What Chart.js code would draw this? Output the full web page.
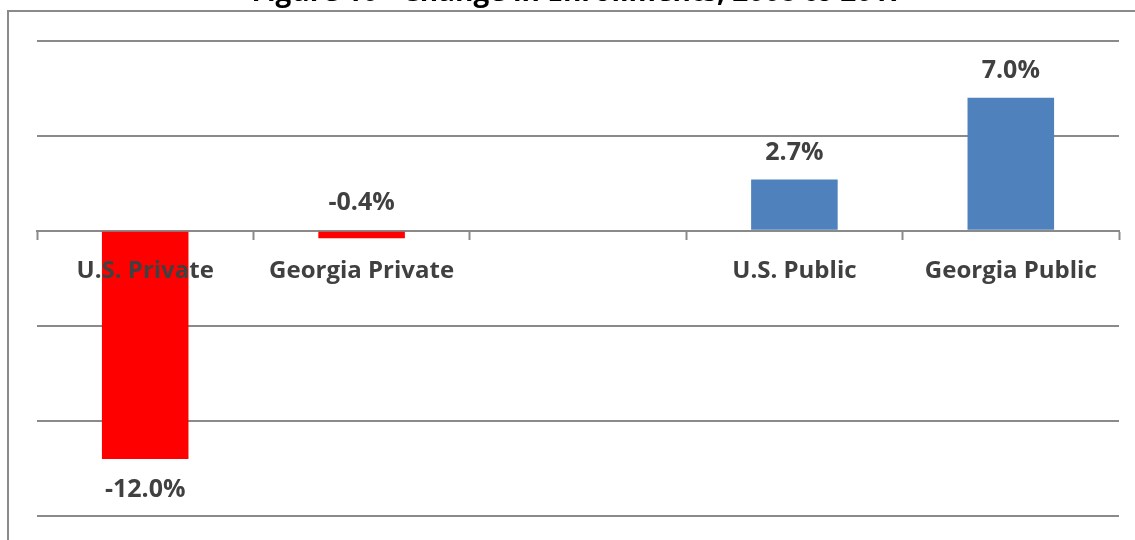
<!DOCTYPE html>
<html>
<head>
<meta charset="utf-8">
<script src="https://cdn.jsdelivr.net/npm/chart.js@4/dist/chart.umd.min.js"></script>
<style>
  html, body { margin: 0; padding: 0; background: #fff; overflow: hidden; }
  body { width: 1135px; height: 540px; position: relative; }
  .frame { position: absolute; left: 7px; top: 10px; width: 1200px; height: 600px;
           border-left: 2px solid #8a8a8a; border-top: 2px solid #8a8a8a; }
  .chart-wrap { position: absolute; left: 0; top: -30px; width: 1135px; height: 570px; }
</style>
</head>
<body>
<div class="frame"></div>
<div class="chart-wrap"><canvas id="enrollChart"></canvas></div>
<script>
// Figure 10 data
const categories = ['U.S. Private', 'Georgia Private', '', 'U.S. Public', 'Georgia Public'];
const changePct = [-12.0, -0.4, null, 2.7, 7.0];
const barColors = ['#FF0000', '#FF0000', '#FF0000', '#4F81BD', '#4F81BD'];
const yTicks = { min: -15, max: 10, step: 5 };

const GRID = '#8a8a8a';
const TEXT = '#404040';
const FONT = '"Open Sans", Lato, sans-serif';

// value labels: outside end, but short negative bars get the label above zero
const valueLabels = {
  id: 'valueLabels',
  afterDatasetsDraw(chart) {
    const ctx = chart.ctx;
    const meta = chart.getDatasetMeta(0);
    const y = chart.scales.y;
    ctx.save();
    ctx.font = 'bold 25px ' + FONT;
    ctx.fillStyle = TEXT;
    ctx.textAlign = 'center';
    ctx.textBaseline = 'middle';
    meta.data.forEach((bar, i) => {
      const v = changePct[i];
      if (v === null || v === undefined) return;
      const zero = y.getPixelForValue(0);
      const len = Math.abs(bar.y - zero);
      let ty;
      if (v >= 0) ty = bar.y - 27;
      else if (len < 30) ty = zero - 28;
      else ty = bar.y + 31;
      ctx.fillText(v.toFixed(1) + '%', bar.x, ty);
    });
    ctx.restore();
  }
};

const ctx = document.getElementById('enrollChart').getContext('2d');
new Chart(ctx, {
  type: 'bar',
  data: {
    labels: categories,
    datasets: [{
      data: changePct,
      backgroundColor: barColors,
      borderWidth: 0,
      categoryPercentage: 1,
      barPercentage: 0.4
    }]
  },
  options: {
    responsive: true, maintainAspectRatio: false,
    animation: false,
    layout: { padding: { left: 37, right: 16, top: 0, bottom: 24 } },
    scales: {
      x: {
        position: { y: 0 },
        offset: true,
        grid: { display: true, drawOnChartArea: false, drawTicks: true, tickLength: 8, tickWidth: 2, color: GRID, offset: true },
        border: { display: true, color: GRID, width: 2 },
        ticks: { z: 1, color: TEXT, padding: 18, maxRotation: 0, autoSkip: false, font: { family: FONT, size: 24, weight: 'bold' } }
      },
      y: {
        min: yTicks.min, max: yTicks.max,
        grid: { color: GRID, lineWidth: 2, drawTicks: false },
        border: { display: false },
        ticks: { display: false, stepSize: yTicks.step }
      }
    },
    plugins: {
      legend: { display: false },
      tooltip: { enabled: false },
      title: {
        display: true,
        text: 'Figure 10 - Change in Enrollments, 2008 to 2017',
        color: '#000',
        font: { family: FONT, size: 28, weight: 'bold' },
        padding: { top: 6, bottom: 31 }
      }
    }
  },
  plugins: [valueLabels]
});
</script>
</body>
</html>
